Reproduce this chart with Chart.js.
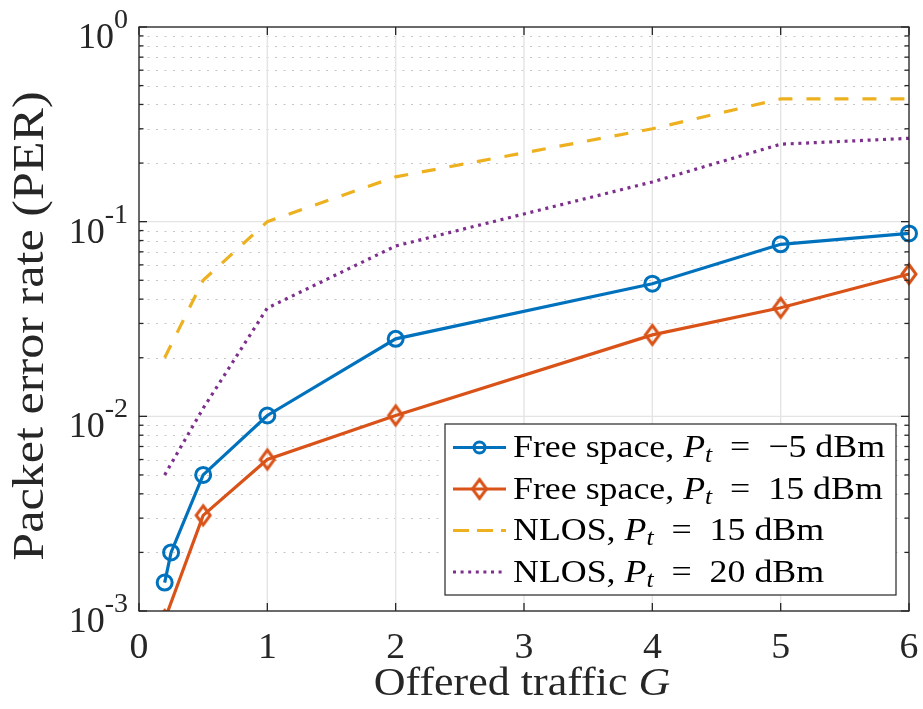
<!DOCTYPE html>
<html>
<head>
<meta charset="utf-8">
<script src="https://cdn.jsdelivr.net/npm/chart.js@4.4.1/dist/chart.umd.min.js"></script>
<style>
  html, body { margin: 0; padding: 0; background: #fff; }
  canvas { display: block; }
</style>
</head>
<body>
<canvas id="perChart" width="923" height="709"></canvas>
<script>
// ticks
const xTicks = [0, 1, 2, 3, 4, 5, 6];
const yTickExponents = [-3, -2, -1, 0];

// series (offered traffic G -> PER)
const gFreeM5 = [0.2, 0.25, 0.5, 1, 2, 4, 5, 6];
const perFreeM5 = [0.0014, 0.002, 0.005, 0.0101, 0.025, 0.048, 0.0765, 0.087];
const gFree15 = [0.2, 0.5, 1, 2, 4, 5, 6];
const perFree15 = [0.0009, 0.0031, 0.006, 0.0101, 0.0262, 0.0361, 0.0538];
const gNlos = [0.2, 0.5, 1, 2, 4, 5, 6];
const perNlos15 = [0.02, 0.05, 0.1, 0.17, 0.3, 0.427, 0.427];
const perNlos20 = [0.005, 0.011, 0.036, 0.075, 0.16, 0.25, 0.268];

const seriesNames = ["Free space", "Free space", "NLOS", "NLOS"];
const seriesPowers = ["\u22125", "15", "15", "20"];
const seriesColors = ["#0072BD", "#D95319", "#EDB120", "#7E2F8E"];

const SERIF = '"Liberation Serif", "Times New Roman", serif';
const AXIS_COLOR = "#262626";

const toPoints = (xs, ys) => xs.map((x, i) => ({ x: x, y: ys[i] }));

// hollow diamond marker
const makeDiamond = (color) => {
  const c = document.createElement("canvas");
  c.width = 22;
  c.height = 26;
  const g = c.getContext("2d");
  g.strokeStyle = color;
  g.lineWidth = 3;
  g.beginPath();
  g.moveTo(11, 3.5);
  g.lineTo(18, 13);
  g.lineTo(11, 22.5);
  g.lineTo(4, 13);
  g.closePath();
  g.stroke();
  return c;
};
const diamond = makeDiamond(seriesColors[1]);

const bottomClip = { left: false, right: false, top: false, bottom: 0 };

const drawRuns = (ctx, runs, x, y, stretch, align) => {
  ctx.save();
  ctx.translate(x, y);
  ctx.scale(stretch, 1);
  ctx.textAlign = "left";
  ctx.textBaseline = "alphabetic";
  let total = 0;
  runs.forEach((r) => {
    ctx.font = r.font;
    total += ctx.measureText(r.text).width;
  });
  let cx = align === "center" ? -total / 2 : align === "right" ? -total : 0;
  runs.forEach((r) => {
    ctx.font = r.font;
    ctx.fillText(r.text, cx, r.dy || 0);
    cx += ctx.measureText(r.text).width;
  });
  ctx.restore();
};

const line = (ctx, x1, y1, x2, y2) => {
  ctx.beginPath();
  ctx.moveTo(x1, y1);
  ctx.lineTo(x2, y2);
  ctx.stroke();
};

const matlabAxes = {
  id: "matlabAxes",
  beforeDatasetsDraw(chart) {
    const { ctx, chartArea: a, scales } = chart;
    const xs = scales.x;
    const ys = scales.y;
    ctx.save();
    // minor dotted grid (y only)
    ctx.strokeStyle = "#c6c6c6";
    ctx.lineWidth = 1.2;
    ctx.setLineDash([2, 6.5]);
    yTickExponents.slice(0, -1).forEach((e) => {
      for (let m = 2; m <= 9; m++) {
        const py = Math.round(ys.getPixelForValue(m * Math.pow(10, e))) + 0.5;
        line(ctx, a.left, py, a.right, py);
      }
    });
    // major grid
    ctx.setLineDash([]);
    ctx.strokeStyle = "#e4e4e4";
    ctx.lineWidth = 1.4;
    xTicks.forEach((t) => {
      const px = xs.getPixelForValue(t);
      line(ctx, px, a.top, px, a.bottom);
    });
    yTickExponents.forEach((e) => {
      const py = ys.getPixelForValue(Math.pow(10, e));
      line(ctx, a.left, py, a.right, py);
    });
    ctx.restore();
  },
  afterDatasetsDraw(chart) {
    const { ctx, chartArea: a, scales } = chart;
    const xs = scales.x;
    const ys = scales.y;
    ctx.save();
    ctx.strokeStyle = AXIS_COLOR;
    ctx.lineWidth = 1.3;
    ctx.strokeRect(a.left, a.top, a.right - a.left, a.bottom - a.top);

    // ticks, pointing inwards
    xTicks.forEach((t) => {
      const px = xs.getPixelForValue(t);
      line(ctx, px, a.bottom, px, a.bottom - 8);
      line(ctx, px, a.top, px, a.top + 8);
    });
    yTickExponents.forEach((e, i) => {
      const py = ys.getPixelForValue(Math.pow(10, e));
      line(ctx, a.left, py, a.left + 8, py);
      line(ctx, a.right, py, a.right - 8, py);
      if (i < yTickExponents.length - 1) {
        for (let m = 2; m <= 9; m++) {
          const pm = ys.getPixelForValue(m * Math.pow(10, e));
          line(ctx, a.left, pm, a.left + 4.5, pm);
          line(ctx, a.right, pm, a.right - 4.5, pm);
        }
      }
    });

    // tick labels
    ctx.fillStyle = AXIS_COLOR;
    xTicks.forEach((t) => {
      drawRuns(ctx, [{ text: String(t), font: `36px ${SERIF}` }], xs.getPixelForValue(t), a.bottom + 47, 1.05, "center");
    });
    yTickExponents.forEach((e) => {
      const py = ys.getPixelForValue(Math.pow(10, e));
      const expText = e === 0 ? "0" : "-" + Math.abs(e);
      ctx.font = `28px ${SERIF}`;
      const ew = ctx.measureText(expText).width;
      const right = a.left - 11;
      drawRuns(ctx, [{ text: expText, font: `28px ${SERIF}` }], right, py + 1, 1, "right");
      drawRuns(ctx, [{ text: "10", font: `36px ${SERIF}` }], right - ew, py + 21, 1, "right");
    });

    // axis titles
    drawRuns(
      ctx,
      [
        { text: "Offered traffic ", font: `40px ${SERIF}` },
        { text: "G", font: `italic 40px ${SERIF}` },
      ],
      (a.left + a.right) / 2 - 2,
      a.bottom + 84,
      1.1,
      "center"
    );
    ctx.save();
    ctx.translate(43, (a.top + a.bottom) / 2 + 7);
    ctx.rotate(-Math.PI / 2);
    drawRuns(ctx, [{ text: "Packet error rate (PER)", font: `44px ${SERIF}` }], 0, 0, 1.14, "center");
    ctx.restore();

    // legend
    const bx = a.right - 464;
    const by = a.bottom - 187;
    const bw = 451;
    const bh = 171;
    ctx.fillStyle = "#fff";
    ctx.fillRect(bx, by, bw, bh);
    ctx.strokeStyle = AXIS_COLOR;
    ctx.lineWidth = 1.2;
    ctx.strokeRect(bx, by, bw, bh);
    chart.data.datasets.forEach((ds, i) => {
      const cy = by + 23.5 + i * 41.5;
      ctx.save();
      ctx.strokeStyle = ds.borderColor;
      ctx.lineWidth = 3;
      if (i === 2) ctx.setLineDash([16, 8]);
      if (i === 3) ctx.setLineDash([3, 4.6]);
      line(ctx, bx + 8, cy, bx + 61, cy);
      ctx.setLineDash([]);
      if (i === 0) {
        ctx.beginPath();
        ctx.arc(bx + 34.5, cy, 5.5, 0, Math.PI * 2);
        ctx.stroke();
      }
      if (i === 1) ctx.drawImage(diamond, bx + 34.5 - 11, cy - 13);
      ctx.restore();
      ctx.fillStyle = "#000";
      drawRuns(
        ctx,
        [
          { text: seriesNames[i] + ", ", font: `32px ${SERIF}` },
          { text: "P", font: `italic 32px ${SERIF}` },
          { text: "t", font: `italic 23px ${SERIF}`, dy: 5 },
          { text: "\u2002=\u2002" + seriesPowers[i] + " dBm", font: `32px ${SERIF}` },
        ],
        bx + 68,
        cy + 9.5,
        1.12,
        "left"
      );
    });
    ctx.restore();
  },
};

const ctx = document.querySelector("canvas#perChart").getContext("2d");
const perChart = new Chart(ctx, {
  type: "line",
  data: {
    datasets: [
      {
        label: "Free space, Pt = -5 dBm",
        data: toPoints(gFreeM5, perFreeM5),
        borderColor: seriesColors[0],
        backgroundColor: "rgba(0,0,0,0)",
        borderWidth: 3.2,
        pointStyle: "circle",
        pointRadius: 7.5,
        pointBorderWidth: 3,
        clip: bottomClip,
      },
      {
        label: "Free space, Pt = 15 dBm",
        data: toPoints(gFree15, perFree15),
        borderColor: seriesColors[1],
        backgroundColor: "rgba(0,0,0,0)",
        borderWidth: 3.2,
        pointStyle: diamond,
        pointRadius: 9,
        clip: bottomClip,
      },
      {
        label: "NLOS, Pt = 15 dBm",
        data: toPoints(gNlos, perNlos15),
        borderColor: seriesColors[2],
        borderWidth: 3.2,
        borderDash: [14, 14],
        pointRadius: 0,
        clip: bottomClip,
      },
      {
        label: "NLOS, Pt = 20 dBm",
        data: toPoints(gNlos, perNlos20),
        borderColor: seriesColors[3],
        borderWidth: 3.2,
        borderDash: [3, 4.7],
        pointRadius: 0,
        clip: bottomClip,
      },
    ],
  },
  options: {
    responsive: false,
    animation: false,
    devicePixelRatio: 1,
    layout: { padding: { top: 27, right: 14, left: 0, bottom: 0 } },
    plugins: { legend: { display: false }, tooltip: { enabled: false } },
    scales: {
      x: {
        type: "linear",
        min: 0,
        max: 6,
        grid: { display: false },
        border: { display: false },
        ticks: { display: false },
        afterFit: (scale) => {
          scale.height = 98;
        },
      },
      y: {
        type: "logarithmic",
        min: 0.001,
        max: 1,
        grid: { display: false },
        border: { display: false },
        ticks: { display: false },
        afterFit: (scale) => {
          scale.width = 139;
        },
      },
    },
  },
  plugins: [matlabAxes],
});
</script>
</body>
</html>
